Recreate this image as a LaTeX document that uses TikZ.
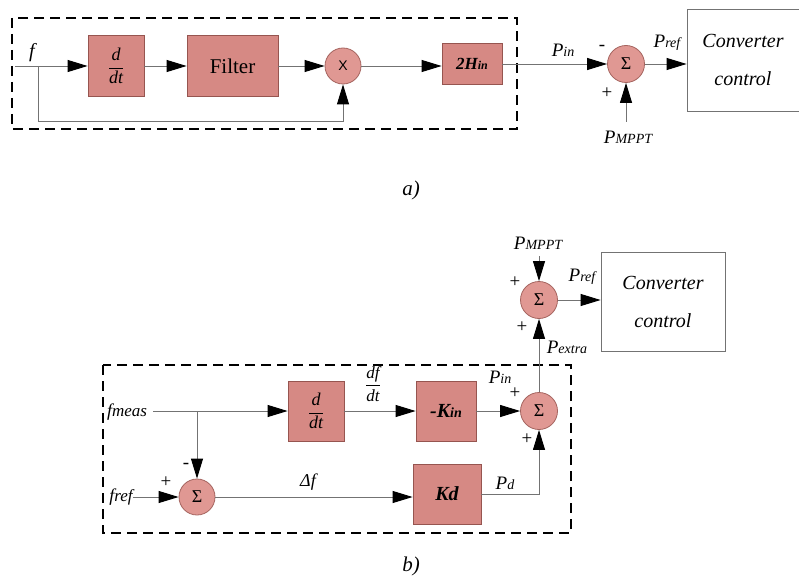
\documentclass[tikz,border=0pt]{standalone}
\usepackage{fontspec}
\setmainfont{Liberation Serif}
\newfontfamily\sansf{Liberation Sans}
\usetikzlibrary{arrows.meta}
\definecolor{boxfill}{RGB}{214,137,132}
\definecolor{boxdraw}{RGB}{150,85,80}
\definecolor{circfill}{RGB}{224,152,147}
\definecolor{circdraw}{RGB}{165,100,95}
\definecolor{linegray}{RGB}{115,115,115}
\newcommand\fs[1]{\fontsize{#1}{#1}\selectfont}
\begin{document}
\begin{tikzpicture}[x=1pt,y=-1pt,font=\fs{17},
  blk/.style={draw=boxdraw,fill=boxfill,line width=0.8pt,inner sep=0pt},
  sumc/.style={circle,draw=circdraw,fill=circfill,line width=0.8pt,minimum size=37pt,inner sep=0pt},
  conn/.style={draw=linegray,line width=0.9pt},
  arr/.style={conn,-{Triangle[length=20pt,width=12pt,black]}},
  dbox/.style={draw=black,line width=1.3pt,dash pattern=on 10pt off 6pt},
  cbox/.style={draw=linegray,line width=0.8pt,inner sep=0pt,align=center,font=\fs{20}\itshape},
  lab/.style={inner sep=0pt,font=\fs{19}\itshape},
  sgn/.style={inner sep=0pt,font=\fs{19}}]
\useasboundingbox (0,0) rectangle (799,580);

% ---------------- part a ----------------
\draw[dbox] (12,18) rectangle (517,129);
\node[blk,minimum width=56pt,minimum height=61pt] (dda) at (116,66) {\fs{18}$\displaystyle\frac{\textit{d}}{\textit{dt}}$};
\node[blk,minimum width=91pt,minimum height=61pt] (filt) at (232.5,66) {\fs{21}Filter};
\node[sumc,minimum size=36pt] (mul) at (343,66) {\sansf\fs{14}X};
\node[blk,minimum width=60pt,minimum height=41pt] (h2) at (472,64) {\bfseries\itshape\fs{17}2H{\fs{12}in}};
\node[sumc] (sa) at (626,64) {\fs{18}Σ};
\node[cbox,minimum width=112pt,minimum height=102pt] (conva) at (743,60) {Converter\\[18pt]control};

\node[lab] (fla) at (32,53) {\fs{20}f};
\node[lab] (pina) at (563,50) {P{\fs{14}in}};
\node[sgn] (mina) at (602,48) {-};
\node[sgn] (plsa) at (607,93) {+};
\node[lab] (prefa) at (667,43) {P{\fs{14}ref}};
\node[lab] (pma) at (628,137) {P{\fs{14}MPPT}};

\coordinate (fin) at (15,66);
\coordinate (fb) at (38,66);
\coordinate (fbc) at (38,121);
\coordinate (pmat) at (626,122);
\draw[arr] (fin) -- (dda);
\draw[arr] (dda) -- (filt);
\draw[arr] (filt) -- (mul);
\draw[arr] (fb) -- (fbc) -| (mul.south);
\draw[arr] (mul.east) -- (mul.east -| h2.west);
\draw[arr] (h2) -- (sa);
\draw[arr] (pmat) -- (sa);
\draw[arr] (sa.east) -- (sa.east -| conva.west);

\node[inner sep=0pt,font=\fs{21}\itshape] (capa) at (411,190) {a)};

% ---------------- part b ----------------
\draw[dbox] (103,365) rectangle (571,533);
\node[blk,minimum width=56pt,minimum height=60pt] (ddb) at (316,411) {\fs{18}$\displaystyle\frac{\textit{d}}{\textit{dt}}$};
\node[blk,minimum width=60pt,minimum height=60pt] (kin) at (446,411) {\bfseries\itshape\fs{20}-K{\fs{14}in}};
\node[blk,minimum width=68pt,minimum height=60pt] (kd) at (447,494) {\bfseries\itshape\fs{20}Kd};
\node[sumc,minimum size=36pt] (s2) at (197,497) {\fs{18}Σ};
\node[sumc] (s3) at (539,411) {\fs{18}Σ};
\node[sumc] (st) at (539,300) {\fs{18}Σ};
\node[cbox,minimum width=124pt,minimum height=99pt] (convb) at (663,301.5) {Converter\\[18pt]control};

\node[lab] (fm) at (127,412) {\fs{18}f{\fs{17}meas}};
\node[lab] (fr) at (121,497) {\fs{18}f{\fs{17}ref}};
\node[lab] (dfdt) at (373,384) {\fs{17}$\displaystyle\frac{\textit{df}}{\textit{dt}}$};
\node[lab] (dlf) at (308,482) {\fs{18}Δf};
\node[lab] (pinb) at (500,377) {P{\fs{14}in}};
\node[lab] (pdb) at (505,483) {P{\fs{14}d}};
\node[lab] (pex) at (567,347) {P{\fs{14}extra}};
\node[lab] (prefb) at (582,277) {P{\fs{14}ref}};
\node[lab] (pmb) at (538,243) {P{\fs{14}MPPT}};
\node[sgn] (p1) at (166,482) {+};
\node[sgn] (m1) at (186,466) {-};
\node[sgn] (p2) at (515,393) {+};
\node[sgn] (p3) at (527,439) {+};
\node[sgn] (p4) at (522,327) {+};
\node[sgn] (p5) at (515,282) {+};

\coordinate (fmo) at (153,411);
\coordinate (br) at (197,411);
\coordinate (pmbt) at (539,256);
\draw[arr] (fmo) -- (ddb);
\draw[arr] (ddb) -- (kin);
\draw[arr] (kin) -- (s3);
\draw[arr] (br) -- (s2);
\draw[arr] (fr) -- (s2);
\draw[arr] (s2.east) -- (s2.east -| kd.west);
\draw[arr] (kd.east) -| (s3.south);
\draw[arr] (s3) -- (st);
\draw[arr] (pmbt) -- (st);
\draw[arr] (st.east) -- (st.east -| convb.west);

\node[inner sep=0pt,font=\fs{21}\itshape] (capb) at (411,566) {b)};
\end{tikzpicture}
\end{document}
